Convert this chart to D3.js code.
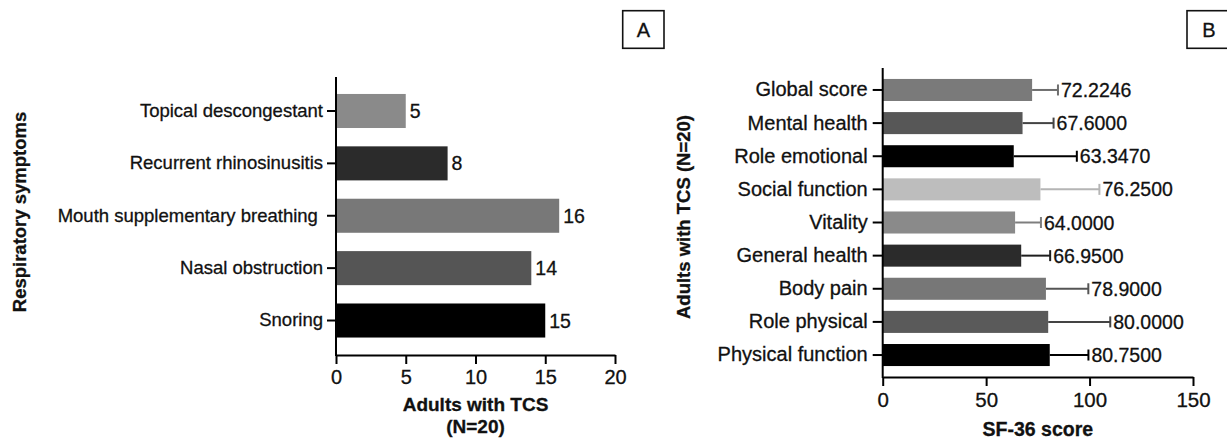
<!DOCTYPE html>
<html>
<head>
<meta charset="utf-8">
<script src="https://cdn.jsdelivr.net/npm/d3@7/dist/d3.min.js"></script>
<style>
  html, body { margin: 0; padding: 0; background: #fff; }
  svg { display: block; font-family: "Liberation Sans", Arial, sans-serif; }
  text { white-space: pre; stroke: #111; stroke-width: 0.3px; }
</style>
</head>
<body>
<svg id="chart" width="1227" height="439"></svg>
<script>
// ---------- Panel A data ----------
const aCategories = ["Topical descongestant", "Recurrent rhinosinusitis", "Mouth supplementary breathing ", "Nasal obstruction", "Snoring"];
const aValues = [5, 8, 16, 14, 15];
const aColors = ["#8a8a8a", "#2b2b2b", "#787878", "#555555", "#000000"];
const aTicks = [0, 5, 10, 15, 20];

// ---------- Panel B data ----------
const bCategories = ["Global score", "Mental health", "Role emotional", "Social function", "Vitality", "General health", "Body pain", "Role physical", "Physical function"];
const bMeans = [72.2246, 67.6, 63.347, 76.25, 64.0, 66.95, 78.9, 80.0, 80.75];
const bSD = [12.5, 15, 30.5, 28.5, 12.5, 14, 20.5, 30, 18.7];
const bLabels = ["72.2246", "67.6000", "63.3470", "76.2500", "64.0000", "66.9500", "78.9000", "80.0000", "80.7500"];
const bColors = ["#7a7a7a", "#575757", "#000000", "#bdbdbd", "#8a8a8a", "#2b2b2b", "#777777", "#5a5a5a", "#000000"];
const bErrColors = ["#6e6e6e", "#444444", "#000000", "#b5b5b5", "#7e7e7e", "#1e1e1e", "#555555", "#444444", "#000000"];
const bTicks = [0, 50, 100, 150];

const svg = d3.select("#chart");
svg.append("rect").attr("width", 1227).attr("height", 439).attr("fill", "#fff");

// ================= Panel A =================
const A = { left: 336, right: 615, top: 77, bottom: 355 };
const xA = d3.scaleLinear().domain([0, 20]).range([A.left, A.right]);
const yA = d3.scaleBand().domain(aCategories).range([84.8, 346.7]).paddingInner(0.35).paddingOuter(0.175);

const gA = svg.append("g");
gA.selectAll("rect.bar").data(aCategories).join("rect")
  .attr("class", "bar")
  .attr("x", xA(0))
  .attr("y", d => yA(d))
  .attr("width", (d, i) => xA(aValues[i]) - xA(0))
  .attr("height", yA.bandwidth())
  .attr("fill", (d, i) => aColors[i]);

gA.selectAll("text.val").data(aCategories).join("text")
  .attr("class", "val")
  .attr("x", (d, i) => xA(aValues[i]) + 4)
  .attr("y", d => yA(d) + yA.bandwidth() / 2)
  .attr("dy", "0.36em")
  .attr("font-size", 19.5)
  .attr("fill", "#111")
  .text((d, i) => aValues[i]);

// x axis A
const axA = gA.append("g").attr("transform", `translate(0,${A.bottom})`)
  .call(d3.axisBottom(xA).tickValues(aTicks).tickSize(9).tickSizeOuter(0).tickPadding(6));
axA.selectAll("text").attr("font-size", 20).attr("fill", "#111").attr("font-family", "Liberation Sans, Arial, sans-serif");
axA.selectAll("line, path").attr("stroke", "#000").attr("stroke-width", 2);

// y axis A
const ayA = gA.append("g").attr("transform", `translate(${A.left},0)`)
  .call(d3.axisLeft(yA).tickSize(9).tickSizeOuter(0).tickPadding(4));
ayA.select("path.domain").remove();
ayA.selectAll("text").attr("font-size", 18.5).attr("fill", "#111").attr("font-family", "Liberation Sans, Arial, sans-serif");
ayA.selectAll("line").attr("stroke", "#000").attr("stroke-width", 2);
gA.append("line").attr("x1", A.left).attr("x2", A.left).attr("y1", A.top).attr("y2", A.bottom + 1)
  .attr("stroke", "#000").attr("stroke-width", 2);

// titles A (two lines)
gA.append("text").attr("x", (A.left + A.right) / 2).attr("y", 411).attr("text-anchor", "middle")
  .attr("font-weight", "bold").attr("font-size", 19).attr("fill", "#111").text("Adults with TCS");
gA.append("text").attr("x", (A.left + A.right) / 2).attr("y", 433).attr("text-anchor", "middle")
  .attr("font-weight", "bold").attr("font-size", 19).attr("fill", "#111").text("(N=20)");
gA.append("text").attr("transform", "translate(26,212) rotate(-90)").attr("text-anchor", "middle")
  .attr("font-weight", "bold").attr("font-size", 18.5).attr("fill", "#111").text("Respiratory symptoms");

// box A
gA.append("rect").attr("x", 622.7).attr("y", 10.7).attr("width", 41.3).attr("height", 37.6)
  .attr("fill", "none").attr("stroke", "#111").attr("stroke-width", 1.6);
gA.append("text").attr("x", 643.3).attr("y", 29.5).attr("dy", "0.36em").attr("text-anchor", "middle")
  .attr("font-size", 20).attr("fill", "#111").text("A");

// ================= Panel B =================
const B = { left: 882.7, right: 1193, top: 68, bottom: 377 };
const xB = d3.scaleLinear().domain([0, 150]).range([B.left, B.right]);
const yB = d3.scaleBand().domain(bCategories).range([73.4, 371.6]).paddingInner(0.335).paddingOuter(0.1675);

const gB = svg.append("g");
// error bars
gB.selectAll("line.err").data(bCategories).join("line")
  .attr("class", "err")
  .attr("x1", (d, i) => xB(bMeans[i]))
  .attr("x2", (d, i) => xB(bMeans[i] + bSD[i]))
  .attr("y1", d => yB(d) + yB.bandwidth() / 2)
  .attr("y2", d => yB(d) + yB.bandwidth() / 2)
  .attr("stroke", (d, i) => bErrColors[i]).attr("stroke-width", 2);
gB.selectAll("line.cap").data(bCategories).join("line")
  .attr("class", "cap")
  .attr("x1", (d, i) => xB(bMeans[i] + bSD[i]))
  .attr("x2", (d, i) => xB(bMeans[i] + bSD[i]))
  .attr("y1", d => yB(d) + yB.bandwidth() / 2 - 5.5)
  .attr("y2", d => yB(d) + yB.bandwidth() / 2 + 5.5)
  .attr("stroke", (d, i) => bErrColors[i]).attr("stroke-width", 2);

gB.selectAll("rect.bar").data(bCategories).join("rect")
  .attr("class", "bar")
  .attr("x", xB(0))
  .attr("y", d => yB(d))
  .attr("width", (d, i) => xB(bMeans[i]) - xB(0))
  .attr("height", yB.bandwidth())
  .attr("fill", (d, i) => bColors[i]);

gB.selectAll("text.val").data(bCategories).join("text")
  .attr("class", "val")
  .attr("x", (d, i) => xB(bMeans[i] + bSD[i]) + 3)
  .attr("y", d => yB(d) + yB.bandwidth() / 2)
  .attr("dy", "0.36em")
  .attr("font-size", 19.5)
  .attr("fill", "#111")
  .text((d, i) => bLabels[i]);

const axB = gB.append("g").attr("transform", `translate(0,${B.bottom})`)
  .call(d3.axisBottom(xB).tickValues(bTicks).tickSize(9).tickSizeOuter(0).tickPadding(6));
axB.selectAll("text").attr("font-size", 20.5).attr("fill", "#111").attr("font-family", "Liberation Sans, Arial, sans-serif");
axB.selectAll("line, path").attr("stroke", "#000").attr("stroke-width", 2);

const ayB = gB.append("g").attr("transform", `translate(${B.left},0)`)
  .call(d3.axisLeft(yB).tickSize(10).tickSizeOuter(0).tickPadding(5));
ayB.select("path.domain").remove();
ayB.selectAll("text").attr("font-size", 20).attr("fill", "#111").attr("font-family", "Liberation Sans, Arial, sans-serif");
ayB.selectAll("line").attr("stroke", "#000").attr("stroke-width", 2);
gB.append("line").attr("x1", B.left).attr("x2", B.left).attr("y1", B.top).attr("y2", B.bottom + 1)
  .attr("stroke", "#000").attr("stroke-width", 2);

gB.append("text").attr("x", (B.left + B.right) / 2).attr("y", 436).attr("text-anchor", "middle")
  .attr("font-weight", "bold").attr("font-size", 19.5).attr("fill", "#111").text("SF-36 score");
gB.append("text").attr("transform", "translate(690,217) rotate(-90)").attr("text-anchor", "middle")
  .attr("font-weight", "bold").attr("font-size", 18.5).attr("fill", "#111").text("Adults with TCS (N=20)");

// box B
gB.append("rect").attr("x", 1187).attr("y", 10.7).attr("width", 42).attr("height", 37.6)
  .attr("fill", "none").attr("stroke", "#111").attr("stroke-width", 1.6);
gB.append("text").attr("x", 1209).attr("y", 29.5).attr("dy", "0.36em").attr("text-anchor", "middle")
  .attr("font-size", 20).attr("fill", "#111").text("B");
</script>
</body>
</html>
